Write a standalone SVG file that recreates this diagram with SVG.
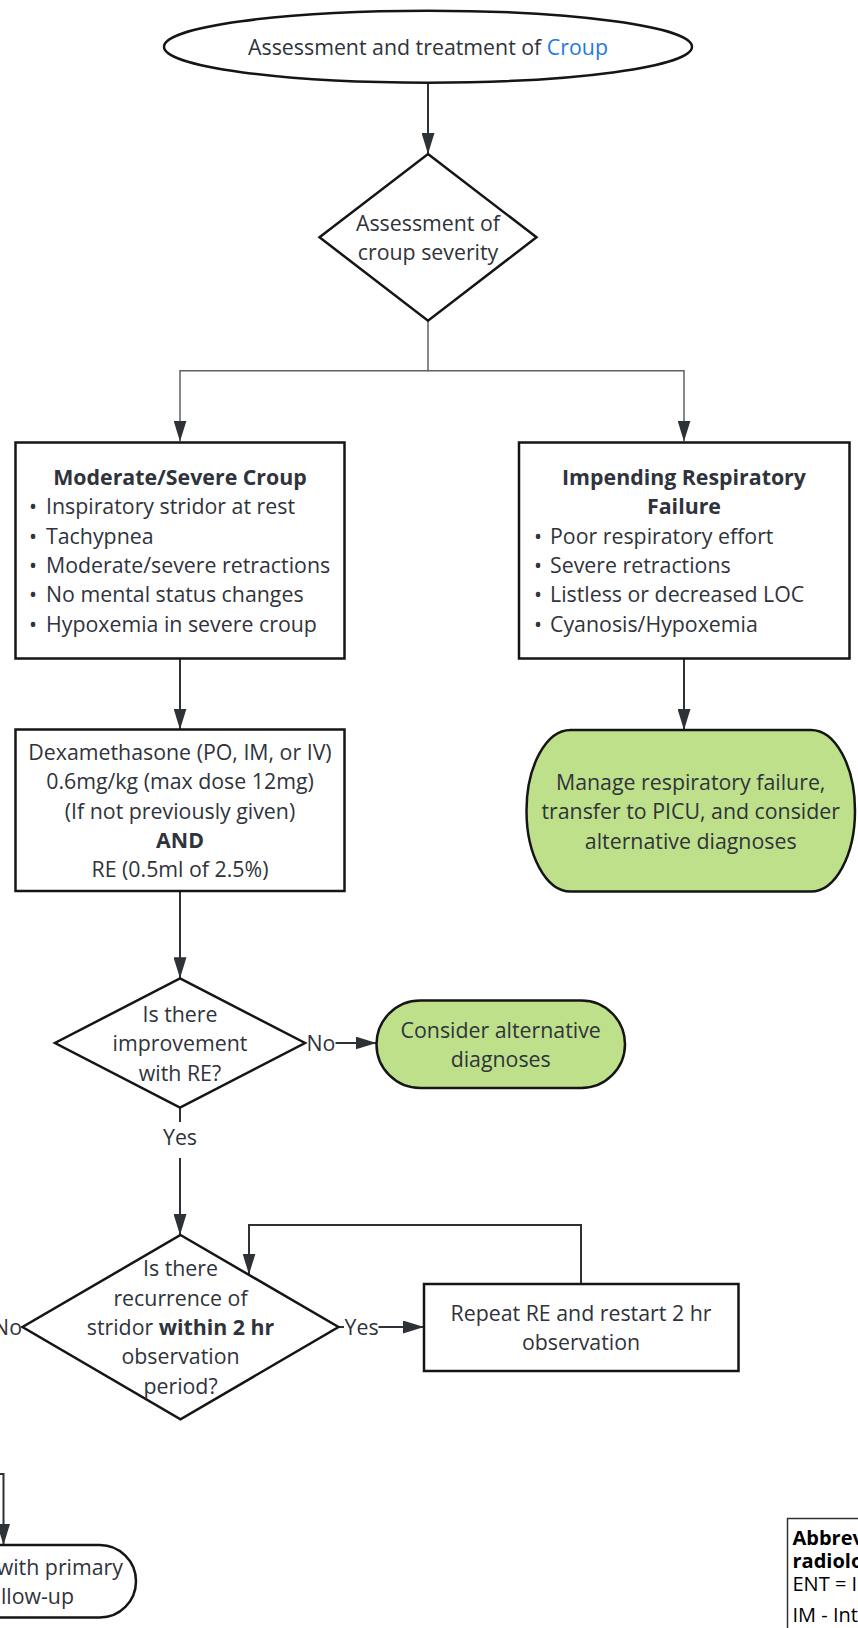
<svg xmlns="http://www.w3.org/2000/svg" width="858" height="1628" viewBox="0 0 858 1628">
<defs>
<style>
.t{font-family:"Open Sans","Noto Sans","Liberation Sans",sans-serif;font-size:21.33px;fill:#2f333b}
.c{text-anchor:middle}
.b{font-weight:bold}
.shape{fill:#fff;stroke:#151515;stroke-width:2.5}
.green{fill:#bee08a;stroke:#151515;stroke-width:2.5}
.conn{fill:none;stroke:#2e3138;stroke-width:2}
.branch{fill:none;stroke:#5e6066;stroke-width:1.5}
.abbr{font-family:"Open Sans","Noto Sans","Liberation Sans",sans-serif;font-size:20px;fill:#000}
</style>
<marker id="ah" viewBox="0 0 21 13" refX="21" refY="6.5" markerWidth="21" markerHeight="13" markerUnits="userSpaceOnUse" orient="auto">
<path d="M0,0 L21,6.5 L0,13 z" fill="#2e3138"/>
</marker>
</defs>
<rect width="858" height="1628" fill="#fff"/>

<g id="connectors">
<path class="conn" d="M428,83 V154" marker-end="url(#ah)"/>
<path class="branch" d="M428,321 V370.7 H180 V441.5" marker-end="url(#ah)"/>
<path class="branch" d="M428,370.7 H684 V441.5" marker-end="url(#ah)"/>
<path class="conn" d="M180,658.5 V729.5" marker-end="url(#ah)"/>
<path class="conn" d="M684,658.5 V730" marker-end="url(#ah)"/>
<path class="conn" d="M180,891 V978.3" marker-end="url(#ah)"/>
<path class="conn" d="M335.5,1043 H376.5" marker-end="url(#ah)"/>
<path class="conn" d="M180,1107.7 V1122"/>
<path class="conn" d="M180,1158 V1235" marker-end="url(#ah)"/>
<path class="conn" d="M338.5,1327 H344"/>
<path class="conn" d="M378.5,1327 H424" marker-end="url(#ah)"/>
<path class="conn" d="M581,1284 V1225 H249 V1274.5" marker-end="url(#ah)"/>
<path class="conn" d="M-10,1474 H3.5 V1545" marker-end="url(#ah)"/>
<text class="t" x="306.5" y="1051">No</text>
<text class="t c" x="180" y="1145">Yes</text>
<text class="t" x="344.5" y="1335">Yes</text>
<text class="t" x="22" y="1335" text-anchor="end">No</text>
</g>

<g id="start">
<ellipse class="shape" cx="428" cy="46.7" rx="264" ry="36"/>
<text class="t c" x="428" y="55">Assessment and treatment of <tspan fill="#1f78e6">Croup</tspan></text>
</g>

<g id="severity">
<polygon class="shape" points="428,154 536.5,237.3 428,320.7 319.5,237.3"/>
<text class="t c" x="428" y="231">Assessment of</text>
<text class="t c" x="428" y="260.3">croup severity</text>
</g>

<g id="moderate">
<rect class="shape" x="15.5" y="442.5" width="329" height="216"/>
<text class="t c b" x="180" y="485">Moderate/Severe Croup</text>
<text class="t" y="514.3"><tspan x="29">•</tspan><tspan x="46">Inspiratory stridor at rest</tspan></text>
<text class="t" y="543.6"><tspan x="29">•</tspan><tspan x="46">Tachypnea</tspan></text>
<text class="t" y="572.9"><tspan x="29">•</tspan><tspan x="46">Moderate/severe retractions</tspan></text>
<text class="t" y="602.2"><tspan x="29">•</tspan><tspan x="46">No mental status changes</tspan></text>
<text class="t" y="631.5"><tspan x="29">•</tspan><tspan x="46">Hypoxemia in severe croup</tspan></text>
</g>

<g id="impending">
<rect class="shape" x="519" y="442.5" width="330.5" height="216"/>
<text class="t c b" x="684" y="485">Impending Respiratory</text>
<text class="t c b" x="684" y="514.3">Failure</text>
<text class="t" y="543.6"><tspan x="534">•</tspan><tspan x="550">Poor respiratory effort</tspan></text>
<text class="t" y="572.9"><tspan x="534">•</tspan><tspan x="550">Severe retractions</tspan></text>
<text class="t" y="602.2"><tspan x="534">•</tspan><tspan x="550">Listless or decreased LOC</tspan></text>
<text class="t" y="631.5"><tspan x="534">•</tspan><tspan x="550">Cyanosis/Hypoxemia</tspan></text>
</g>

<g id="dexamethasone">
<rect class="shape" x="15.5" y="729.5" width="329" height="161.5"/>
<text class="t c" x="180" y="760">Dexamethasone (PO, IM, or IV)</text>
<text class="t c" x="180" y="789.3">0.6mg/kg (max dose 12mg)</text>
<text class="t c" x="180" y="818.6">(If not previously given)</text>
<text class="t c b" x="180" y="847.9">AND</text>
<text class="t c" x="180" y="877.2">RE (0.5ml of 2.5%)</text>
</g>

<g id="manage">
<rect class="green" x="526.5" y="730" width="328.5" height="161.5" rx="44" ry="80.75"/>
<text class="t c" x="690.7" y="790.1">Manage respiratory failure,</text>
<text class="t c" x="690.7" y="819.4">transfer to PICU, and consider</text>
<text class="t c" x="690.7" y="848.7">alternative diagnoses</text>
</g>

<g id="improvement">
<polygon class="shape" points="180,978.3 305,1043 180,1107.7 55,1043"/>
<text class="t c" x="180" y="1022">Is there</text>
<text class="t c" x="180" y="1051.3">improvement</text>
<text class="t c" x="180" y="1080.6">with RE?</text>
</g>

<g id="consider">
<rect class="green" x="376.5" y="1000.5" width="248.5" height="87.5" rx="43.75"/>
<text class="t c" x="500.7" y="1038">Consider alternative</text>
<text class="t c" x="500.7" y="1067.3">diagnoses</text>
</g>

<g id="recurrence">
<polygon class="shape" points="180.5,1235 338.5,1327 180.5,1419.3 22.5,1327"/>
<text class="t c" x="180.5" y="1276.4">Is there</text>
<text class="t c" x="180.5" y="1305.7">recurrence of</text>
<text class="t c" x="180.5" y="1335">stridor <tspan font-weight="bold">within 2 hr</tspan></text>
<text class="t c" x="180.5" y="1364.3">observation</text>
<text class="t c" x="180.5" y="1393.6">period?</text>
</g>

<g id="repeat">
<rect class="shape" x="424" y="1284" width="314.5" height="87"/>
<text class="t c" x="581" y="1321">Repeat RE and restart 2 hr</text>
<text class="t c" x="581" y="1350.3">observation</text>
</g>

<g id="discharge">
<rect class="shape" x="-240" y="1545" width="376" height="72.5" rx="36.25"/>
<text class="t" x="123" y="1575" text-anchor="end">with primary</text>
<text class="t" x="74" y="1604" text-anchor="end">llow-up</text>
</g>

<g id="abbreviations">
<rect x="787.5" y="1518.5" width="120" height="130" fill="#fff" stroke="#333" stroke-width="1.5"/>
<text class="abbr b" x="792.5" y="1545">Abbrev</text>
<text class="abbr b" x="792.5" y="1568">radiolo</text>
<text class="abbr" x="792.5" y="1591">ENT = I</text>
<text class="abbr" x="792.5" y="1622">IM - Int</text>
</g>
</svg>
